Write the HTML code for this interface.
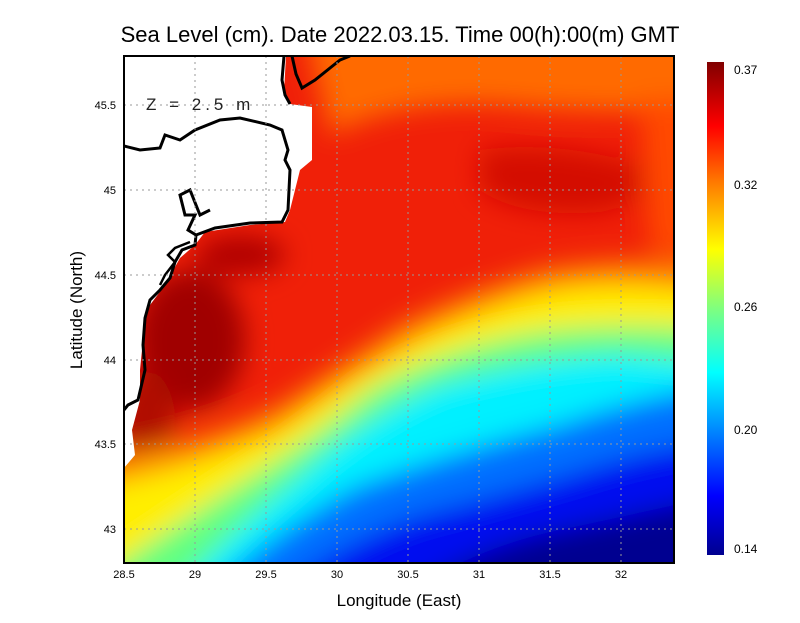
<!DOCTYPE html>
<html><head><style>
body{margin:0;background:#fff;width:800px;height:618px;overflow:hidden;font-family:"Liberation Sans",sans-serif}
</style></head><body>
<svg width="800" height="618" viewBox="0 0 800 618" xmlns="http://www.w3.org/2000/svg" font-family="Liberation Sans, sans-serif">
<defs>
<clipPath id="pa"><rect x="124" y="56" width="550" height="507"/></clipPath>
<filter id="bl" x="-20%" y="-20%" width="140%" height="140%"><feGaussianBlur stdDeviation="13"/></filter>
<linearGradient id="cb" x1="0" y1="1" x2="0" y2="0">
<stop offset="0" stop-color="#00008f"/><stop offset="0.12" stop-color="#0000ff"/>
<stop offset="0.37" stop-color="#00ffff"/><stop offset="0.5" stop-color="#7fff7f"/>
<stop offset="0.62" stop-color="#ffff00"/><stop offset="0.75" stop-color="#ff8000"/>
<stop offset="0.87" stop-color="#ff0000"/><stop offset="1" stop-color="#800000"/>
</linearGradient>
</defs>
<text x="400" y="42" text-anchor="middle" font-size="22">Sea Level (cm). Date 2022.03.15. Time 00(h):00(m) GMT</text>
<g clip-path="url(#pa)">
<rect x="124" y="56" width="550" height="507" fill="#f02008"/>
<g filter="url(#bl)">
<path d="M260 10 L720 10 L720 110 Q600 115 500 105 Q400 100 330 135 L300 10Z" fill="#ff6a00"/>
<path d="M640 100 L720 100 L720 260 L650 250Z" fill="#ff4a00"/>
<path d="M480 150 Q560 140 640 165 Q660 200 600 212 Q520 218 480 190Z" fill="#d41000"/>
<ellipse cx="190" cy="340" rx="55" ry="70" fill="#a00000"/>
<ellipse cx="240" cy="255" rx="45" ry="20" fill="#b00000"/>
<ellipse cx="145" cy="420" rx="30" ry="50" fill="#b00800"/>
<path d="M80 460 Q200 445 280 405 Q340 365 400 325 Q470 290 540 270 Q620 255 720 265 L720 620 L80 620Z" fill="#ff8a00"/>
<path d="M80 490 Q190 470 280 430 Q350 380 420 340 Q490 305 560 290 Q630 280 720 295 L720 620 L80 620Z" fill="#ffee00"/>
<path d="M110 570 Q175 525 245 480 Q310 440 370 390 Q440 350 520 335 Q600 320 720 330 L720 620 L110 620Z" fill="#60ff80"/>
<path d="M150 620 Q215 545 295 480 Q360 420 440 385 Q530 360 620 355 L720 365 L720 620Z" fill="#00f0ff"/>
<path d="M180 620 Q270 530 360 485 Q460 450 560 425 Q630 400 720 385 L720 620Z" fill="#0070ff"/>
<path d="M240 620 Q330 545 420 515 Q520 490 600 465 Q650 450 720 440 L720 620Z" fill="#0010f0"/>
<path d="M370 620 Q450 555 550 532 Q630 515 720 495 L720 620Z" fill="#000090"/>
</g>
<path d="M124 56 L286 56 L284 92 L290 104 L312 107 L312 160 L300 170 L290 210 L285 222 L250 225 L205 232 L195 245 L180 258 L165 285 L150 305 L145 320 L140 370 L140 400 L132 430 L135 455 L124 468Z" fill="#fff"/>
<path d="M284 56 L282 80 L285 95 L290 104" fill="none" stroke="#000" stroke-width="3"/>
<path d="M292 56 L296 74 L302 88 L315 80 L340 60 L350 56" fill="none" stroke="#000" stroke-width="3"/>
<path d="M124 146 L140 150 L160 148 L165 135 L180 140 L195 130 L220 120 L240 118 L270 125 L282 130 L288 150 L285 160 L290 170 L288 210 L282 222 L250 223 L215 228 L196 235 L188 230 L195 215 L185 215 L180 195 L190 190 L200 215 L210 210" fill="none" stroke="#000" stroke-width="3"/>
<path d="M196 235 L195 245 L182 250 L175 262 L170 278 L160 290 L150 300 L145 318 L143 345 L145 370 L138 400 L128 405 L124 410" fill="none" stroke="#000" stroke-width="3"/>
<path d="M190 242 L175 248 L168 255 L175 262 L165 275 L160 285" fill="none" stroke="#000" stroke-width="2.5"/>
</g>
<g stroke="#999" stroke-width="1" stroke-dasharray="2,4">
<line x1="195" y1="56" x2="195" y2="563"/><line x1="266" y1="56" x2="266" y2="563"/>
<line x1="337" y1="56" x2="337" y2="563"/><line x1="408" y1="56" x2="408" y2="563"/>
<line x1="479" y1="56" x2="479" y2="563"/><line x1="550" y1="56" x2="550" y2="563"/>
<line x1="621" y1="56" x2="621" y2="563"/>
<line x1="124" y1="105" x2="674" y2="105"/><line x1="124" y1="190" x2="674" y2="190"/>
<line x1="124" y1="275" x2="674" y2="275"/><line x1="124" y1="360" x2="674" y2="360"/>
<line x1="124" y1="444" x2="674" y2="444"/><line x1="124" y1="529" x2="674" y2="529"/>
</g>
<text x="146" y="110" font-size="17" fill="#222" letter-spacing="4">Z = 2.5 m</text>
<rect x="124" y="56" width="550" height="507" fill="none" stroke="#000" stroke-width="2"/>
<g font-size="11" text-anchor="middle">
<text x="124" y="578">28.5</text><text x="195" y="578">29</text><text x="266" y="578">29.5</text>
<text x="337" y="578">30</text><text x="408" y="578">30.5</text><text x="479" y="578">31</text>
<text x="550" y="578">31.5</text><text x="621" y="578">32</text>
</g>
<g font-size="11" text-anchor="end">
<text x="116" y="109">45.5</text><text x="116" y="194">45</text><text x="116" y="279">44.5</text>
<text x="116" y="364">44</text><text x="116" y="448">43.5</text><text x="116" y="533">43</text>
</g>
<text x="399" y="606" text-anchor="middle" font-size="17">Longitude (East)</text>
<text transform="translate(82,310) rotate(-90)" text-anchor="middle" font-size="17">Latitude (North)</text>
<rect x="707" y="62" width="17" height="493" fill="url(#cb)"/>
<g font-size="12">
<text x="734" y="74">0.37</text><text x="734" y="189">0.32</text><text x="734" y="311">0.26</text>
<text x="734" y="434">0.20</text><text x="734" y="553">0.14</text>
</g>
</svg>
</body></html>
